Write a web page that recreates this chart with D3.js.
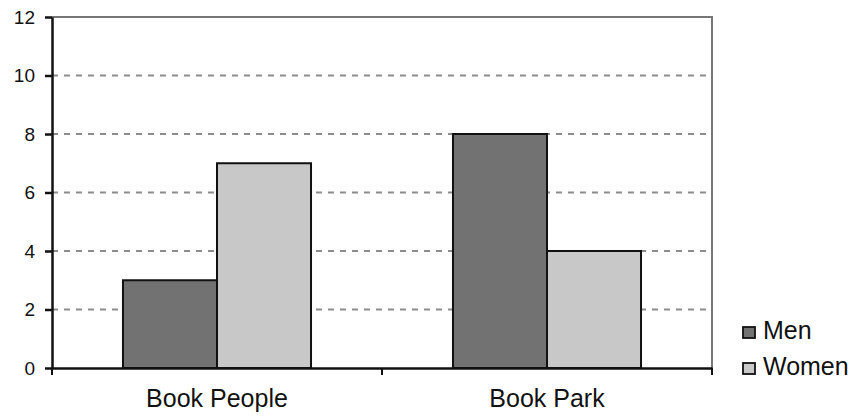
<!DOCTYPE html>
<html>
<head>
<meta charset="utf-8">
<script src="https://cdn.jsdelivr.net/npm/d3@7"></script>
<style>
  html, body { margin: 0; padding: 0; background: #fff; }
  svg { display: block; }
  text { font-family: "Liberation Sans", Arial, sans-serif; fill: #111; }
</style>
</head>
<body>
<svg id="chart" width="854" height="416"></svg>
<script>
// Chart data
const categories = ["Book People", "Book Park"];
const seriesNames = ["Men", "Women"];
const menValues = [3, 8];
const womenValues = [7, 4];
const yTicks = [0, 2, 4, 6, 8, 10, 12];
const seriesColors = ["#727272", "#c8c8c8"];

const rows = categories.map((c, i) => ({ category: c, values: [menValues[i], womenValues[i]] }));

const svg = d3.select("#chart");
const margin = { left: 52, right: 142, top: 17, bottom: 48 };
const width = 854, height = 416;
const x0 = margin.left, x1 = width - margin.right;
const y0 = height - margin.bottom, y1 = margin.top;

const x = d3.scaleBand().domain(categories).range([x0, x1]).paddingInner(0).paddingOuter(0);
const xs = d3.scaleBand().domain(seriesNames).range([0, x.bandwidth()]).paddingInner(0).paddingOuter(0.755);
const y = d3.scaleLinear().domain([0, 12]).range([y0, y1]);

// Dashed gridlines
svg.append("g")
  .selectAll("line")
  .data(yTicks.filter(t => t > 0 && t < 12))
  .join("line")
  .attr("x1", x0).attr("x2", x1)
  .attr("y1", d => y(d)).attr("y2", d => y(d))
  .attr("stroke", "#8c8c8c")
  .attr("stroke-width", 2)
  .attr("stroke-dasharray", "6,6");

// Plot frame (top and right)
svg.append("path")
  .attr("d", `M${x0},${y1}H${x1}V${y0}`)
  .attr("fill", "none")
  .attr("stroke", "#777")
  .attr("stroke-width", 2);

// Bars
const groups = svg.append("g").selectAll("g")
  .data(rows)
  .join("g")
  .attr("transform", d => `translate(${x(d.category)},0)`);

groups.selectAll("rect")
  .data(d => d.values.map((v, i) => ({ name: seriesNames[i], value: v, i })))
  .join("rect")
  .attr("x", d => xs(d.name))
  .attr("width", xs.bandwidth())
  .attr("y", d => y(d.value))
  .attr("height", d => y(0) - y(d.value))
  .attr("fill", d => seriesColors[d.i])
  .attr("stroke", "#111")
  .attr("stroke-width", 2);

// Y axis
const yAxis = svg.append("g")
  .attr("transform", `translate(${x0},0)`)
  .call(d3.axisLeft(y).tickValues(yTicks).tickSize(7).tickPadding(10).tickSizeOuter(0));
yAxis.select(".domain").attr("stroke", "#111").attr("stroke-width", 2.5);
yAxis.selectAll(".tick line").attr("stroke", "#111").attr("stroke-width", 2.5);
yAxis.selectAll(".tick text").style("font-size", "19px").attr("fill", "#111");

// X axis
const xAxis = svg.append("g")
  .attr("transform", `translate(0,${y0})`)
  .call(d3.axisBottom(x).tickSize(0).tickPadding(21).tickSizeOuter(0));
xAxis.select(".domain").attr("stroke", "#111").attr("stroke-width", 2.5);
xAxis.selectAll(".tick text").style("font-size", "25px").attr("fill", "#111");

// Tick marks at category boundaries
svg.append("g").selectAll("line")
  .data([x0, x0 + x.bandwidth(), x1])
  .join("line")
  .attr("x1", d => d).attr("x2", d => d)
  .attr("y1", y0).attr("y2", y0 + 7)
  .attr("stroke", "#111").attr("stroke-width", 2);

// Legend
const legend = svg.append("g").attr("transform", "translate(743,327)");
const item = legend.selectAll("g")
  .data(seriesNames)
  .join("g")
  .attr("transform", (d, i) => `translate(0,${i * 36})`);
item.append("rect")
  .attr("x", 0).attr("y", 0).attr("width", 12).attr("height", 11)
  .attr("fill", (d, i) => seriesColors[i])
  .attr("stroke", "#111").attr("stroke-width", 1.8);
item.append("text")
  .attr("x", 20).attr("y", 12)
  .style("font-size", "25px")
  .text(d => d);
</script>
</body>
</html>
